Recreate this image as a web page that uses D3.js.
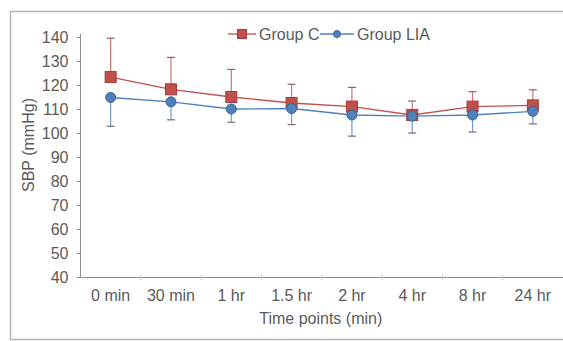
<!DOCTYPE html>
<html>
<head>
<meta charset="utf-8">
<script src="https://cdn.jsdelivr.net/npm/d3@7"></script>
<style>
  body { margin: 0; background: #fff; }
  text { font-family: "Liberation Sans", Arial, sans-serif; }
</style>
</head>
<body>
<div id="chart"></div>
<script>
// time points on the x axis
const timePoints = ["0 min", "30 min", "1 hr", "1.5 hr", "2 hr", "4 hr", "8 hr", "24 hr"];

// Group C (red squares), error bar drawn upwards
const groupC = [123.3, 118.2, 115, 112.5, 111, 107.5, 111, 111.5];
const groupCErr = [16.2, 13.3, 11.5, 7.8, 8, 5.8, 6.2, 6.5];

// Group LIA (blue circles), error bar drawn downwards
const groupLIA = [114.8, 113, 110, 110.2, 107.5, 107, 107.5, 109];
const groupLIAErr = [12, 7.5, 5.5, 6.7, 8.8, 7, 7.1, 5.2];

const yTicks = [40, 50, 60, 70, 80, 90, 100, 110, 120, 130, 140];

const width = 563;
const height = 341;
const red = "#c0504d";
const blue = "#4f81bd";
const textColor = "#5a5a5a";
const axisColor = "#8c8c8c";
const fontSize = "16px";

const svg = d3.select("#chart")
  .append("svg")
  .attr("width", width)
  .attr("height", height);

// frame round the figure
svg.append("rect")
  .attr("x", 10.5)
  .attr("y", 11.5)
  .attr("width", 600)
  .attr("height", 328)
  .attr("fill", "none")
  .attr("stroke", "#b4b4b4")
  .attr("stroke-width", 1.5);

const x = d3.scaleBand()
  .domain(timePoints)
  .range([80.5, 563]);

const y = d3.scaleLinear()
  .domain([40, 140])
  .range([277, 37]);

const cx = d => x(d) + x.bandwidth() / 2;

// y axis
const yAxis = svg.append("g")
  .attr("transform", "translate(80.5,0)")
  .call(d3.axisLeft(y).tickValues(yTicks).tickSize(4).tickPadding(8));
yAxis.select(".domain").attr("d", `M0,${y(40)}V${y(140) - 3}`);
yAxis.selectAll("line, path").attr("stroke", axisColor);
yAxis.selectAll("text")
  .attr("fill", textColor)
  .style("font-size", fontSize)
  .style("font-family", "Liberation Sans, Arial, sans-serif");

// x axis
const xAxis = svg.append("g")
  .attr("transform", `translate(0,${y(40) + 0.5})`)
  .call(d3.axisBottom(x).tickSize(0).tickPadding(12));
xAxis.select(".domain").attr("stroke", axisColor).attr("d", "M80.5,0H563");
xAxis.selectAll("text")
  .attr("fill", textColor)
  .style("font-size", fontSize)
  .style("font-family", "Liberation Sans, Arial, sans-serif");

// small category separators on the x axis
svg.append("g")
  .selectAll("line")
  .data(timePoints.slice(1))
  .join("line")
  .attr("x1", d => x(d))
  .attr("x2", d => x(d))
  .attr("y1", y(40) - 2)
  .attr("y2", y(40) + 3)
  .attr("stroke", "#c8c8c8");

// axis titles
svg.append("text")
  .attr("x", (80.5 + 563) / 2 - 1)
  .attr("y", 324)
  .attr("text-anchor", "middle")
  .attr("fill", textColor)
  .style("font-size", fontSize)
  .text("Time points (min)");

svg.append("text")
  .attr("transform", `translate(34,${(y(40) + y(140)) / 2 - 12}) rotate(-90)`)
  .attr("text-anchor", "middle")
  .attr("fill", textColor)
  .style("font-size", fontSize)
  .text("SBP (mmHg)");

const line = d3.line()
  .x((d, i) => cx(timePoints[i]))
  .y(d => y(d));

function drawSeries(values, errs, color, dark, dir, marker) {
  const g = svg.append("g");
  const pts = values.map((v, i) => ({ t: timePoints[i], v: v, e: errs[i] }));

  // error bars
  g.selectAll(".err")
    .data(pts)
    .join("line")
    .attr("x1", d => cx(d.t))
    .attr("x2", d => cx(d.t))
    .attr("y1", d => y(d.v))
    .attr("y2", d => y(d.v + dir * d.e))
    .attr("stroke", color)
    .attr("stroke-opacity", 0.8)
    .attr("stroke-width", 1.2);

  g.selectAll(".cap")
    .data(pts)
    .join("line")
    .attr("x1", d => cx(d.t) - 4)
    .attr("x2", d => cx(d.t) + 4)
    .attr("y1", d => y(d.v + dir * d.e))
    .attr("y2", d => y(d.v + dir * d.e))
    .attr("stroke", "#7a6a72")
    .attr("stroke-width", 1.2);

  g.append("path")
    .datum(values)
    .attr("d", line)
    .attr("fill", "none")
    .attr("stroke", color)
    .attr("stroke-width", 1.3);

  if (marker === "square") {
    g.selectAll(".mk")
      .data(pts)
      .join("rect")
      .attr("x", d => cx(d.t) - 5.5)
      .attr("y", d => y(d.v) - 5.5)
      .attr("width", 11)
      .attr("height", 11)
      .attr("fill", color)
      .attr("stroke", dark)
      .attr("stroke-width", 1);
  } else {
    g.selectAll(".mk")
      .data(pts)
      .join("circle")
      .attr("cx", d => cx(d.t))
      .attr("cy", d => y(d.v))
      .attr("r", 5)
      .attr("fill", color)
      .attr("stroke", dark)
      .attr("stroke-width", 1);
  }
}

drawSeries(groupC, groupCErr, red, "#a33b38", 1, "square");
drawSeries(groupLIA, groupLIAErr, blue, "#3a6494", -1, "circle");

// legend
const legend = svg.append("g").attr("transform", "translate(0,34)");
const legendItems = [
  { name: "Group C", color: red, dark: "#a33b38", marker: "square", x0: 228, x1: 256, text: 259 },
  { name: "Group LIA", color: blue, dark: "#3a6494", marker: "circle", x0: 320, x1: 354, text: 357 }
];
legendItems.forEach(it => {
  legend.append("line")
    .attr("x1", it.x0).attr("x2", it.x1)
    .attr("y1", 0).attr("y2", 0)
    .attr("stroke", it.color)
    .attr("stroke-width", 1.3);
  const mx = (it.x0 + it.x1) / 2;
  if (it.marker === "square") {
    legend.append("rect")
      .attr("x", mx - 4.5).attr("y", -4.5)
      .attr("width", 9).attr("height", 9)
      .attr("fill", it.color).attr("stroke", it.dark);
  } else {
    legend.append("circle")
      .attr("cx", mx).attr("cy", 0).attr("r", 3.5)
      .attr("fill", it.color).attr("stroke", it.dark);
  }
  legend.append("text")
    .attr("x", it.text)
    .attr("y", 0)
    .attr("dy", "0.35em")
    .attr("fill", textColor)
    .style("font-size", fontSize)
    .text(it.name);
});
</script>
</body>
</html>
